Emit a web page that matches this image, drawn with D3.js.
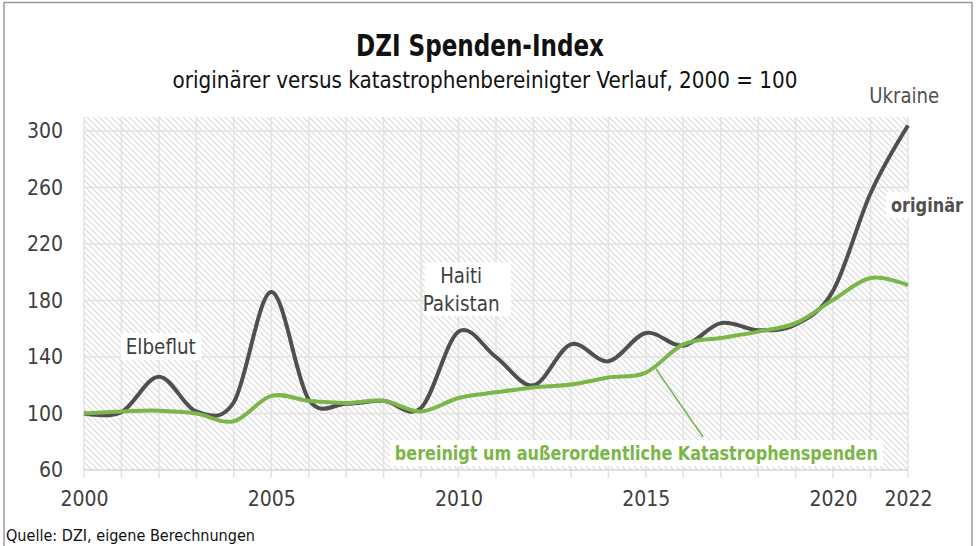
<!DOCTYPE html>
<html>
<head>
<meta charset="utf-8">
<script src="https://cdn.jsdelivr.net/npm/d3@7/dist/d3.min.js"></script>
<style>
  body { margin: 0; background: #fff; }
  text { font-family: "Liberation Sans Narrow", "DejaVu Sans Condensed", "Roboto Condensed", sans-serif; }
</style>
</head>
<body>
<script>
// chart values
const years = [2000, 2001, 2002, 2003, 2004, 2005, 2006, 2007, 2008, 2009, 2010,
  2011, 2012, 2013, 2014, 2015, 2016, 2017, 2018, 2019, 2020, 2021, 2022];
const original = [100, 101, 126, 101.5, 108, 186, 110, 107, 109, 104, 158,
  140, 120, 149, 137, 157, 148, 164, 159, 163, 187, 256, 304];
const adjusted = [100, 101.5, 102, 100, 94.5, 112.5, 109, 107.5, 109, 101.5, 111,
  115, 118.5, 120.5, 125.5, 129, 149, 153.5, 158, 164, 180.5, 196, 191];
const yTicks = [60, 100, 140, 180, 220, 260, 300];
const xLabels = [2000, 2005, 2010, 2015, 2020, 2022];

const w = 977;
const h = 546;
const margin = { top: 117, right: 69, bottom: 76, left: 84 };

const svg = d3.select("body").append("svg").attr("width", w).attr("height", h);

//hatch fill of the plot area
const defs = svg.append("defs");
const pat = defs.append("pattern")
  .attr("id", "hatch")
  .attr("patternUnits", "userSpaceOnUse")
  .attr("width", 6)
  .attr("height", 6);
pat.append("path")
  .attr("d", "M0,0 L6,6 M-1,5 L1,7 M5,-1 L7,1")
  .attr("stroke", "#dadada")
  .attr("stroke-width", 1.2);

//outer frame
svg.append("rect")
  .attr("x", 4).attr("y", 2.5)
  .attr("width", 968).attr("height", 560)
  .attr("fill", "none")
  .attr("stroke", "#9a9a9a")
  .attr("stroke-width", 1.5);

const xScale = d3.scaleLinear()
  .domain([2000, 2022])
  .range([margin.left, w - margin.right]);
const yScale = d3.scaleLinear()
  .domain([60, 310])
  .range([h - margin.bottom, margin.top]);

const plot = svg.append("g");

plot.append("rect")
  .attr("x", xScale(2000))
  .attr("y", yScale(310))
  .attr("width", xScale(2022) - xScale(2000))
  .attr("height", yScale(60) - yScale(310))
  .attr("fill", "url(#hatch)");

//grid
plot.append("g")
  .selectAll("line")
  .data(years)
  .join("line")
  .attr("x1", (d) => xScale(d)).attr("x2", (d) => xScale(d))
  .attr("y1", yScale(310)).attr("y2", yScale(60) + 8)
  .attr("stroke", "#e2e2e2")
  .attr("stroke-width", 1.5);

plot.append("g")
  .selectAll("line")
  .data(yTicks)
  .join("line")
  .attr("x1", xScale(2000)).attr("x2", xScale(2022))
  .attr("y1", (d) => yScale(d)).attr("y2", (d) => yScale(d))
  .attr("stroke", (d) => (d === 60 ? "#d6d6d6" : "#e2e2e2"))
  .attr("stroke-width", 1.5);

//axes labels
const yAxis = d3.axisLeft(yScale).tickValues(yTicks).tickSize(0).tickPadding(21);
svg.append("g")
  .attr("transform", `translate(${margin.left}, 0)`)
  .call(yAxis)
  .call((g) => g.select(".domain").remove())
  .call((g) => g.selectAll(".tick text")
    .attr("fill", "#404040")
    .attr("font-size", 21)
    .style("font-family", null));

const xAxis = d3.axisBottom(xScale).tickValues(xLabels).tickFormat((d) => `${d}`).tickSize(0).tickPadding(21);
svg.append("g")
  .attr("transform", `translate(0, ${h - margin.bottom})`)
  .call(xAxis)
  .call((g) => g.select(".domain").remove())
  .call((g) => g.selectAll(".tick text")
    .attr("fill", "#404040")
    .attr("font-size", 21)
    .style("font-family", null));

//lines
const line = d3.line()
  .x((d, i) => xScale(years[i]))
  .y((d) => yScale(d))
  .curve(d3.curveCatmullRom.alpha(0));

plot.append("path")
  .datum(original)
  .attr("d", line)
  .attr("fill", "none")
  .attr("stroke", "#4f4f4f")
  .attr("stroke-width", 4)
  .attr("stroke-linejoin", "round");

plot.append("path")
  .datum(adjusted)
  .attr("d", line)
  .attr("fill", "none")
  .attr("stroke", "#7ab648")
  .attr("stroke-width", 4)
  .attr("stroke-linejoin", "round");

//leader line to the green label
svg.append("line")
  .attr("x1", xScale(2015.27)).attr("y1", yScale(131.5))
  .attr("x2", xScale(2016.53)).attr("y2", yScale(83.4))
  .attr("stroke", "#7ab648")
  .attr("stroke-width", 1.5);

//annotations with white boxes
function boxedText(x, y, str, opts) {
  const g = svg.append("g");
  const t = g.append("text")
    .attr("x", x).attr("y", y)
    .attr("text-anchor", opts.anchor || "middle")
    .attr("font-size", opts.size)
    .attr("font-weight", opts.weight || "normal")
    .attr("fill", opts.color)
    .text(str);
  if (opts.len) t.attr("textLength", opts.len).attr("lengthAdjust", "spacingAndGlyphs");
  if (opts.box) {
    const bb = t.node().getBBox();
    g.insert("rect", "text")
      .attr("x", bb.x - 5).attr("y", bb.y - 1)
      .attr("width", bb.width + 10).attr("height", bb.height + 2)
      .attr("fill", "#fff");
  }
  return t;
}

boxedText(xScale(2002.05), yScale(142), "Elbeflut", { size: 22, color: "#404040", len: 70, box: true });
const hp = svg.append("g");
hp.append("rect")
  .attr("x", xScale(2009.1)).attr("y", yScale(207))
  .attr("width", xScale(2011.4) - xScale(2009.1))
  .attr("height", yScale(169) - yScale(207))
  .attr("fill", "#fff");
boxedText(xScale(2010.07), yScale(192.4), "Haiti", { size: 22, color: "#404040", len: 42 });
boxedText(xScale(2010.07), yScale(172.6), "Pakistan", { size: 22, color: "#404040", len: 77 });
boxedText(xScale(2021.9), yScale(320), "Ukraine", { size: 22, color: "#505050", len: 70 });
boxedText(xScale(2022) - 17, yScale(242.7), "originär", { size: 20, weight: "bold", color: "#505050", anchor: "start", len: 72, box: true });
boxedText(xScale(2008.3), yScale(67), "bereinigt um außerordentliche Katastrophenspenden",
  { size: 20, weight: "bold", color: "#7ab648", anchor: "start", len: 483, box: true });

//titles
svg.append("text")
  .attr("x", 480).attr("y", 56)
  .attr("text-anchor", "middle")
  .attr("font-size", 30)
  .attr("font-weight", "bold")
  .attr("fill", "#111")
  .attr("textLength", 248).attr("lengthAdjust", "spacingAndGlyphs")
  .text("DZI Spenden-Index");

svg.append("text")
  .attr("x", 485).attr("y", 88)
  .attr("text-anchor", "middle")
  .attr("font-size", 23)
  .attr("fill", "#111")
  .attr("textLength", 625).attr("lengthAdjust", "spacingAndGlyphs")
  .text("originärer versus katastrophenbereinigter Verlauf, 2000 = 100");

svg.append("text")
  .attr("x", 6).attr("y", 541)
  .attr("font-size", 16)
  .attr("fill", "#111")
  .attr("textLength", 249).attr("lengthAdjust", "spacingAndGlyphs")
  .text("Quelle: DZI, eigene Berechnungen");
</script>
</body>
</html>
